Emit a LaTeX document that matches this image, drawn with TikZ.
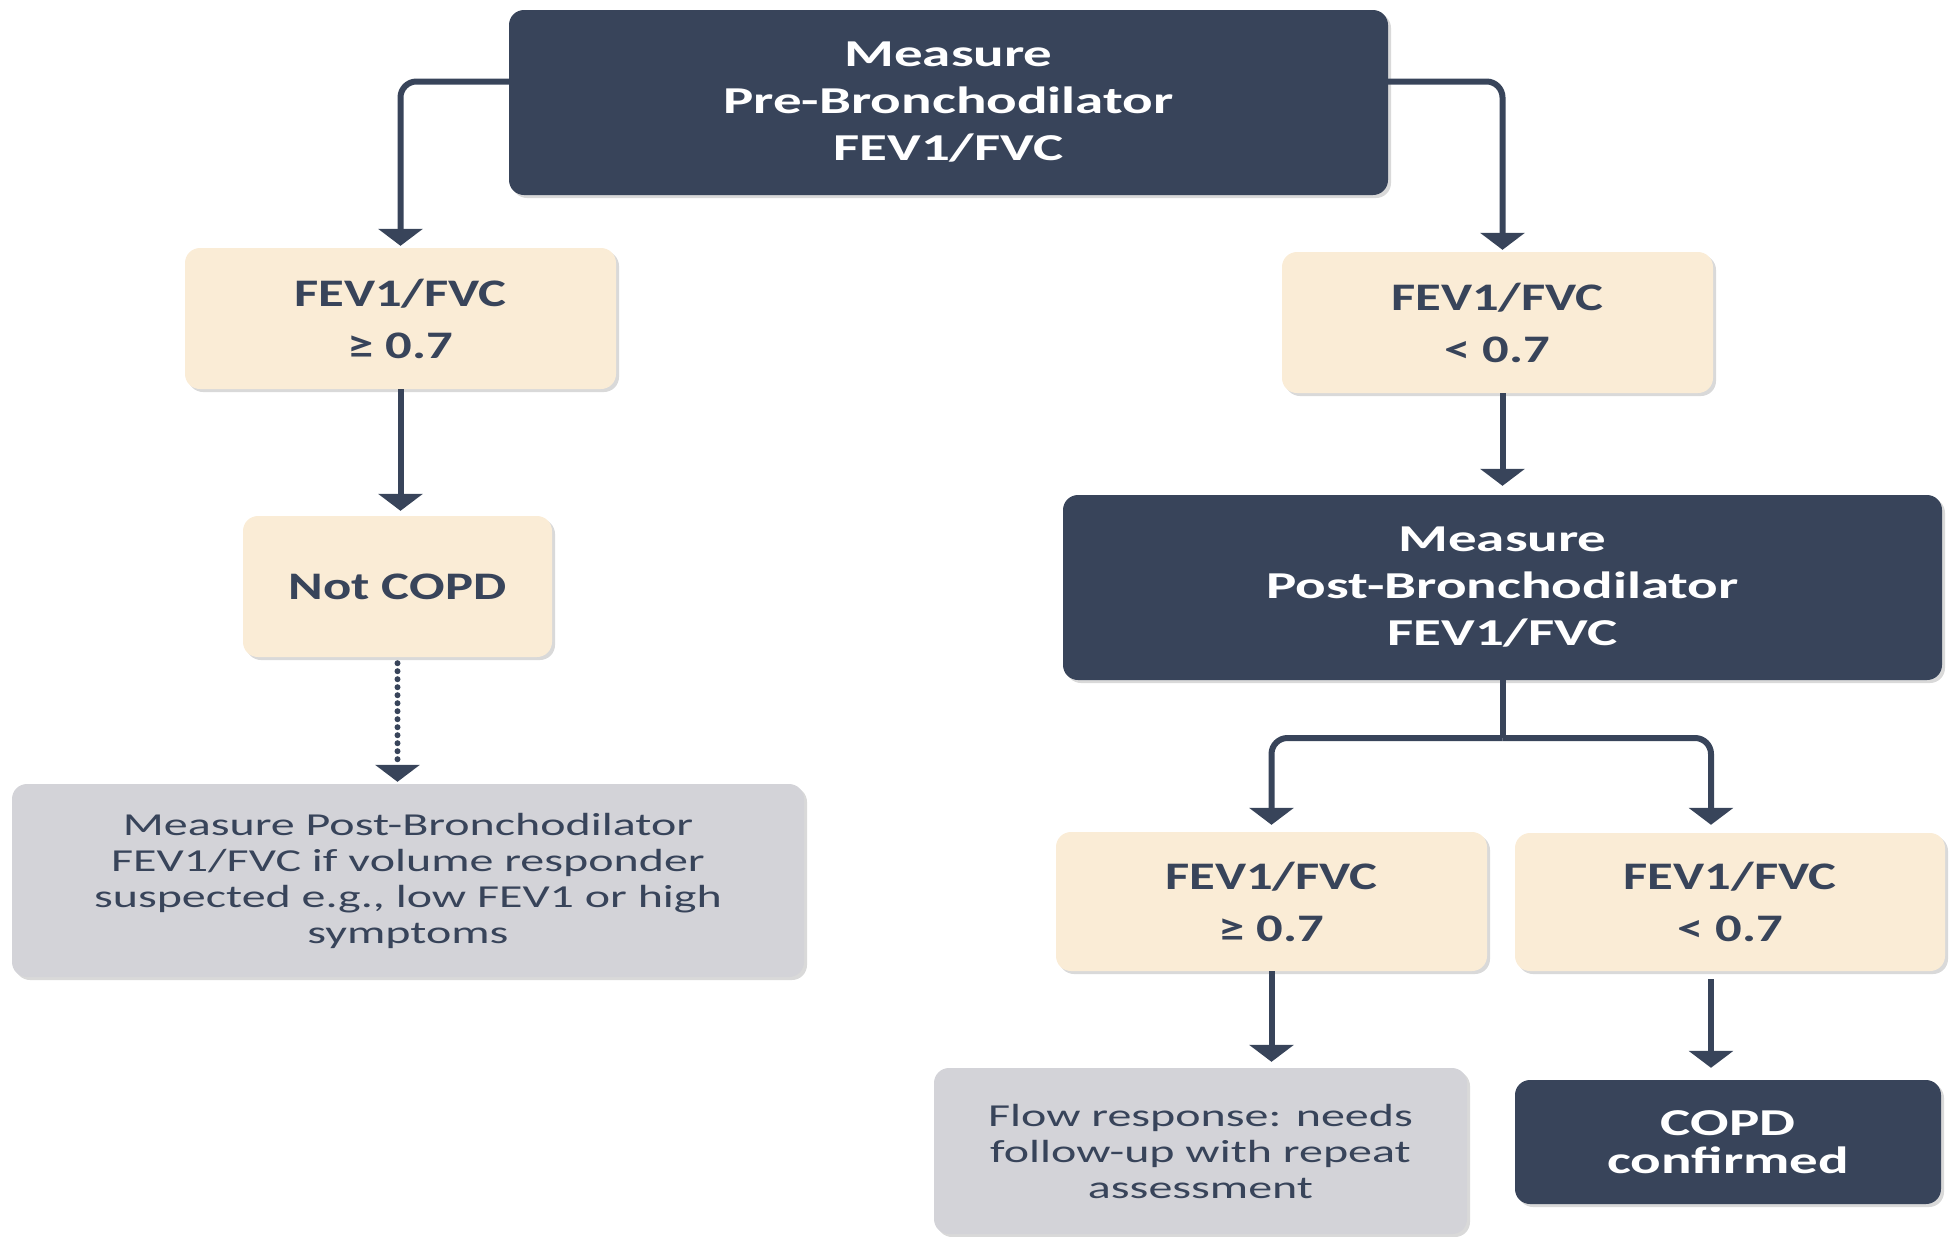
\documentclass[tikz,border=0pt]{standalone}
\usepackage{fontspec}
\setmainfont{Carlito}[FakeStretch=1.35]
\newfontfamily\widefont{Carlito}[FakeStretch=1.5]
\usepackage{tikz}
\usetikzlibrary{arrows.meta,shadows}

\definecolor{navy}{RGB}{56,68,90}
\definecolor{cream}{RGB}{250,236,214}
\definecolor{lightgrey}{RGB}{211,211,216}

\tikzset{
  box/.style={rounded corners=15pt, inner sep=0pt, align=center,
    drop shadow={shadow xshift=3pt, shadow yshift=-3pt, opacity=0.3}},
  darkbox/.style={box, fill=navy, text=white,
    font=\widefont\fontsize{38}{47}\selectfont\bfseries},
  creambox/.style={box, fill=cream, text=navy,
    font=\fontsize{39}{52}\selectfont\bfseries},
  greybox/.style={box, fill=lightgrey, text=navy,
    font=\widefont\fontsize{32}{36}\selectfont},
  link/.style={draw=navy, line width=6pt, rounded corners=16pt,
    -{Triangle[width=44pt, length=17pt]}},
}

\begin{document}
\begin{tikzpicture}[x=1pt, y=-1pt]
  \useasboundingbox (0,0) rectangle (1955,1237);

  \node[darkbox, minimum width=879pt, minimum height=185pt] (pre) at (948.5,102.5)
    {Measure\\Pre-Bronchodilator\\FEV1/FVC};
  \node[creambox, minimum width=431pt, minimum height=141pt] (ly1) at (400.5,318.5)
    {FEV1/FVC\\≥ 0.7};
  \node[creambox, minimum width=431pt, minimum height=141pt] (ry1) at (1497.5,322.5)
    {FEV1/FVC\\< 0.7};
  \node[creambox, minimum width=309pt, minimum height=141pt] (notcopd) at (397.5,586.5)
    {Not COPD};
  \node[greybox, minimum width=792pt, minimum height=193pt] (grey1) at (408,880.5)
    {Measure Post-Bronchodilator\\FEV1/FVC if volume responder\\suspected e.g., low FEV1 or high\\symptoms};
  \node[darkbox, minimum width=879pt, minimum height=185pt] (post) at (1502.5,587.5)
    {Measure\\Post-Bronchodilator\\FEV1/FVC};
  \node[creambox, minimum width=431pt, minimum height=139pt] (ly2) at (1271.5,901.5)
    {FEV1/FVC\\≥ 0.7};
  \node[creambox, minimum width=430pt, minimum height=138pt] (ry2) at (1730,902)
    {FEV1/FVC\\< 0.7};
  \node[greybox, minimum width=533pt, minimum height=166pt] (grey2) at (1200.5,1151)
    {Flow response: needs\\follow-up with repeat\\assessment};
  \node[darkbox, minimum width=426pt, minimum height=124pt,
    font=\widefont\fontsize{38}{38}\selectfont\bfseries] (copd) at (1728,1142)
    {COPD\\confirmed};

  \coordinate (split) at (1502.5,738);
  \coordinate (rx) at (1711,0);

  \draw[link, shorten >=2pt]
    ([yshift=21pt]pre.west) -| (ly1.north)
  ;
  \draw[link, shorten >=2pt]
    ([yshift=21pt]pre.east) -| (post.north |- ry1.north)
  ;
  \draw[link, shorten >=5pt] (ly1.south) -- (ly1.south |- notcopd.north);
  \draw[link, line cap=round, dash pattern=on 0pt off 8pt, shorten <=6pt, shorten >=2pt]
    (notcopd.south) -- (notcopd.south |- grey1.north)
  ;
  \draw[link, shorten >=9pt] (post.north |- ry1.south) -- (post.north);
  \draw[link, -] (post.south) -- (split);
  \draw[link, shorten >=7pt] (split) -| (ly2.north);
  \draw[link, shorten >=8pt] (split) -| (rx |- ry2.north);
  \draw[link, shorten >=6pt] (ly2.south) -- (ly2.south |- grey2.north);
  \draw[link, shorten <=8pt, shorten >=12pt]
    (rx |- ry2.south) -- (rx |- copd.north)
  ;
\end{tikzpicture}
\end{document}
